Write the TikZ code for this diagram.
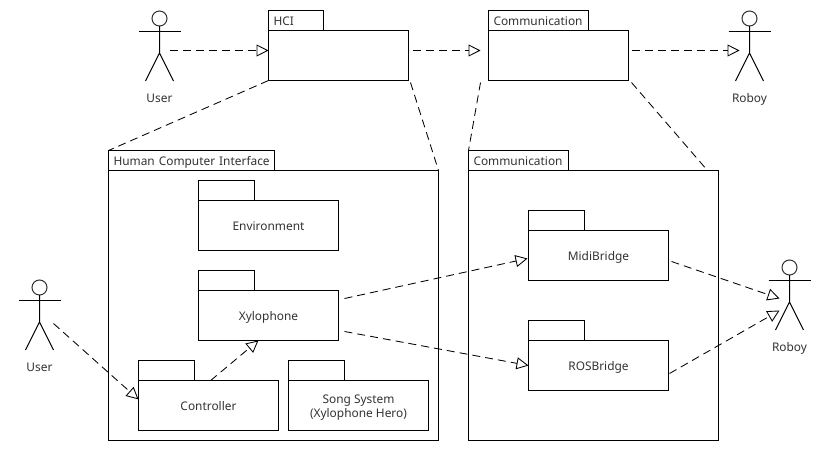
\documentclass[tikz,border=0pt]{standalone}
\usepackage{fontspec}
\setmainfont{Noto Sans}
\usetikzlibrary{arrows.meta}
\definecolor{txt}{HTML}{333333}
\newcommand{\actor}[4]{
    % name, x, y of the head, label
    \draw (#2, #3) node[head] (#1) {};
    \draw (#1.south) -- ++(0, 27) coordinate (#1c) -- ++(-14, 28) (#1c) -- ++(14, 28);
    \draw ([shift={(-21, 13)}]#1.center) -- ++(42, 0);
    \draw (#2, #3+79) node[lbl] (#1l) {#4};
}
\begin{document}
\begin{tikzpicture}[line width=1pt]
    \tikzset{x=1pt, y=-1pt}
    \tikzstyle{lbl}=[text=txt, inner sep=0pt, font=\fontsize{11.9}{14}\selectfont, align=center, text height=12pt, text depth=2pt]
    \tikzstyle{pkg}=[lbl, draw=black, minimum width=140pt, minimum height=50pt, outer sep=0pt]
    \tikzstyle{pkgtab}=[lbl, draw=black, anchor=south west, minimum height=20pt, outer sep=0pt, align=left, execute at begin node=\hspace*{5pt}]
    \tikzstyle{head}=[circle, draw=black!80, minimum size=15pt, inner sep=0pt, outer sep=0pt]
    \tikzstyle{dep}=[line width=0.85pt, dash pattern=on 8pt off 5pt]
    \tikzstyle{real}=[dep, -{Triangle[open, length=12pt, width=12pt]}]

    \useasboundingbox (0.5, -0.5) rectangle (830.5, 449.5);

    % top row
    \draw (339, 55)     node[pkg]                       (hci)       {};
    \draw (269, 30)     node[pkgtab, text width=55pt]   (hcit)      {HCI};
    \draw (559, 55)     node[pkg]                       (com)       {};
    \draw (489, 30)     node[pkgtab, text width=100pt]  (comt)      {Communication};

    \actor{usra}{160}{18}{User}
    \actor{roba}{750}{18}{Roboy}
    \actor{usrb}{40}{287}{User}
    \actor{robb}{790}{267}{Roboy}

    % large packages
    \draw (274, 305)    node[pkg, minimum width=330pt, minimum height=270pt]    (hcibig)    {};
    \draw (109, 170)    node[pkgtab, text width=166pt]  (hcibigt)   {Human Computer Interface};
    \draw (594, 305)    node[pkg, minimum width=250pt, minimum height=270pt]    (combig)    {};
    \draw (469, 170)    node[pkgtab, text width=100pt]  (combigt)   {Communication};

    % inner packages
    \draw (269, 225)    node[pkg]                       (env)       {Environment};
    \draw (199, 200)    node[pkgtab, text width=56pt]   (envt)      {};
    \draw (269, 315)    node[pkg]                       (xyl)       {Xylophone};
    \draw (199, 290)    node[pkgtab, text width=56pt]   (xylt)      {};
    \draw (209, 405)    node[pkg]                       (ctl)       {Controller};
    \draw (139, 380)    node[pkgtab, text width=56pt]   (ctlt)      {};
    \draw (359, 405)    node[pkg, text height=26pt, text depth=3pt]  (sng)  {Song System\\(Xylophone Hero)};
    \draw (289, 380)    node[pkgtab, text width=56pt]   (sngt)      {};
    \draw (599, 255)    node[pkg]                       (mid)       {MidiBridge};
    \draw (529, 230)    node[pkgtab, text width=56pt]   (midt)      {};
    \draw (599, 365)    node[pkg]                       (ros)       {ROSBridge};
    \draw (529, 340)    node[pkgtab, text width=56pt]   (rost)      {};

    % realizations
    \draw [real]        ([shift={(10, 32)}]usra.center) -- ([yshift=5pt]hci.west);
    \draw [real]        ([shift={(4, -5)}]hci.east) -- ([shift={(-8, -5)}]com.west);
    \draw [real]        ([shift={(3, -5)}]com.east) -- ([shift={(-10, 32)}]roba.center);
    \draw [real]        ([shift={(14, 36)}]usrb.center) -- (ctl.175);
    \draw [real]        (ctl.85) -- (xyl.248);
    \draw [real]        ([shift={(6, -17)}]xyl.east) -- ([shift={(-1, 3)}]mid.west);
    \draw [real]        ([shift={(6, 16)}]xyl.east) -- (ros.west);
    \draw [real]        ([shift={(3, 6)}]mid.east) -- ([shift={(-10, 31)}]robb.center);
    \draw [real]        ([shift={(1, 8)}]ros.east) -- ([shift={(-10, 43)}]robb.center);

    % package details
    \draw [dep]         (hci.south west) -- (hcibigt.north west);
    \draw [dep]         ([shift={(2, 2)}]hci.south east) -- (hcibig.north east);
    \draw [dep]         ([shift={(-8, 2)}]com.south west) -- (combigt.north west);
    \draw [dep]         ([shift={(3, 2)}]com.south east) -- ([xshift=-11pt]combig.north east);
\end{tikzpicture}
\end{document}
